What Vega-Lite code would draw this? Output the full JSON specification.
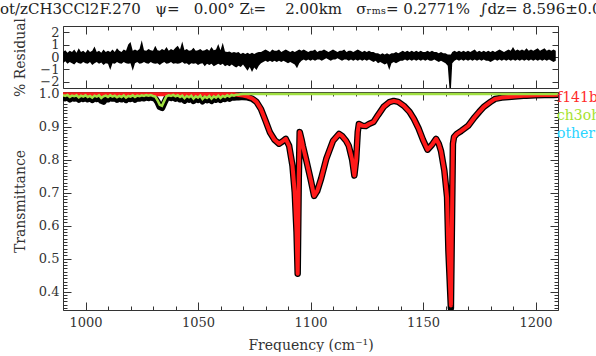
{
  "$schema": "https://vega.github.io/schema/vega-lite/v6.json",
  "background": "white",
  "padding": {"left": 0, "top": 2, "right": 0, "bottom": 0},
  "title": {"text": "ot/zCH3CCl2F.270\u00a0\u00a0\u00a0ψ=\u00a0\u00a0\u00a00.00°\u00a0Zₜ=\u00a0\u00a0\u00a0\u00a02.00km\u00a0\u00a0\u00a0σᵣₘₛ=\u00a00.2771%\u00a0\u00a0∫dz=\u00a08.596±0.0", "anchor": "start", "dx": -13, "fontSize": 15, "font": "DejaVu Serif", "fontWeight": "normal", "color": "#222", "offset": 0},
  "config": {
    "font": "DejaVu Serif",
    "view": {"stroke": null},
    "axis": {"labelFont": "DejaVu Serif", "labelFontSize": 13, "labelColor": "#333", "titleFont": "DejaVu Serif", "titleFontSize": 14, "titleFontWeight": "normal", "titleColor": "#333", "domainColor": "#333", "tickColor": "#333", "grid": false, "labelOverlap": false, "labelFlush": false}
  },
  "spacing": 4,
  "bounds": "flush",
  "resolve": {"scale": {"color": "independent"}, "legend": {"color": "independent"}},
  "vconcat": [
    {
      "width": 495,
      "height": 62,
      "data": {"values": [
        {"f":990,"lo":-0.5,"hi":0.4},{"f":991,"lo":-0.35,"hi":0.55},{"f":992,"lo":-0.55,"hi":0.35},{"f":993,"lo":-0.4,"hi":0.5},{"f":994,"lo":-0.5,"hi":0.4},{"f":995,"lo":-0.6,"hi":0.6},{"f":996,"lo":-0.4,"hi":0.35},{"f":997,"lo":-0.5,"hi":0.7},{"f":998,"lo":-0.55,"hi":0.4},{"f":999,"lo":-0.4,"hi":0.5},
        {"f":1000,"lo":-0.5,"hi":0.35},{"f":1001,"lo":-0.55,"hi":0.6},{"f":1002,"lo":-0.4,"hi":0.4},{"f":1003,"lo":-0.65,"hi":0.5},{"f":1004,"lo":-0.5,"hi":0.85},{"f":1005,"lo":-0.4,"hi":0.4},{"f":1006,"lo":-0.55,"hi":0.5},{"f":1007,"lo":-0.45,"hi":0.35},{"f":1008,"lo":-0.65,"hi":0.6},{"f":1009,"lo":-0.5,"hi":0.4},
        {"f":1010,"lo":-0.55,"hi":0.5},{"f":1011,"lo":-1.05,"hi":0.4},{"f":1012,"lo":-0.5,"hi":0.6},{"f":1013,"lo":-0.55,"hi":0.4},{"f":1014,"lo":-0.4,"hi":0.7},{"f":1015,"lo":-0.5,"hi":0.5},{"f":1016,"lo":-0.55,"hi":0.4},{"f":1017,"lo":-0.4,"hi":0.6},{"f":1018,"lo":-0.5,"hi":0.5},{"f":1019,"lo":-0.55,"hi":1.0},
        {"f":1020,"lo":-0.5,"hi":1.2},{"f":1021,"lo":-1.1,"hi":0.5},{"f":1022,"lo":-0.5,"hi":0.6},{"f":1023,"lo":-0.4,"hi":0.5},{"f":1024,"lo":-0.55,"hi":0.65},{"f":1025,"lo":-0.5,"hi":1.35},{"f":1026,"lo":-0.4,"hi":0.55},{"f":1027,"lo":-0.5,"hi":0.5},{"f":1028,"lo":-0.55,"hi":0.65},{"f":1029,"lo":-0.4,"hi":0.55},
        {"f":1030,"lo":-0.5,"hi":0.5},{"f":1031,"lo":-0.55,"hi":0.9},{"f":1032,"lo":-0.5,"hi":0.55},{"f":1033,"lo":-0.65,"hi":0.5},{"f":1034,"lo":-0.5,"hi":0.65},{"f":1035,"lo":-0.4,"hi":0.55},{"f":1036,"lo":-0.55,"hi":0.8},{"f":1037,"lo":-0.5,"hi":0.5},{"f":1038,"lo":-0.4,"hi":0.65},{"f":1039,"lo":-0.55,"hi":0.55},
        {"f":1040,"lo":-0.5,"hi":0.75},{"f":1041,"lo":-0.55,"hi":0.9},{"f":1042,"lo":-0.5,"hi":0.6},{"f":1043,"lo":-0.4,"hi":1.25},{"f":1044,"lo":-0.55,"hi":0.55},{"f":1045,"lo":-0.5,"hi":0.65},{"f":1046,"lo":-0.65,"hi":0.5},{"f":1047,"lo":-0.5,"hi":0.55},{"f":1048,"lo":-0.55,"hi":0.75},{"f":1049,"lo":-0.5,"hi":0.5},
        {"f":1050,"lo":-0.65,"hi":0.55},{"f":1051,"lo":-0.55,"hi":0.65},{"f":1052,"lo":-0.5,"hi":0.5},{"f":1053,"lo":-0.75,"hi":0.55},{"f":1054,"lo":-0.55,"hi":0.65},{"f":1055,"lo":-0.65,"hi":0.5},{"f":1056,"lo":-0.55,"hi":0.8},{"f":1057,"lo":-0.75,"hi":0.55},{"f":1058,"lo":-0.65,"hi":0.6},{"f":1059,"lo":-0.55,"hi":1.05},
        {"f":1060,"lo":-0.65,"hi":0.55},{"f":1061,"lo":-0.55,"hi":1.15},{"f":1062,"lo":-0.75,"hi":0.45},{"f":1063,"lo":-0.65,"hi":0.4},{"f":1064,"lo":-0.75,"hi":0.45},{"f":1065,"lo":-0.6,"hi":0.35},{"f":1066,"lo":-0.75,"hi":0.4},{"f":1067,"lo":-0.85,"hi":0.35},{"f":1068,"lo":-0.7,"hi":0.4},{"f":1069,"lo":-0.8,"hi":0.25},
        {"f":1070,"lo":-0.6,"hi":0.35},{"f":1071,"lo":-0.85,"hi":0.25},{"f":1072,"lo":-1.1,"hi":0.35},{"f":1073,"lo":-0.8,"hi":0.25},{"f":1074,"lo":-1.2,"hi":0.35},{"f":1075,"lo":-0.85,"hi":0.25},{"f":1076,"lo":-1.05,"hi":0.35},{"f":1077,"lo":-0.7,"hi":0.4},{"f":1078,"lo":-0.5,"hi":0.4},{"f":1079,"lo":-0.4,"hi":0.5},
        {"f":1080,"lo":-0.3,"hi":0.6},{"f":1081,"lo":-0.4,"hi":0.5},{"f":1082,"lo":-0.3,"hi":0.4},{"f":1083,"lo":-0.4,"hi":0.6},{"f":1084,"lo":-0.3,"hi":0.5},{"f":1085,"lo":-0.4,"hi":0.5},{"f":1086,"lo":-0.3,"hi":0.6},{"f":1087,"lo":-0.4,"hi":0.4},{"f":1088,"lo":-0.3,"hi":0.5},{"f":1089,"lo":-0.4,"hi":0.6},
        {"f":1090,"lo":-0.5,"hi":0.5},{"f":1091,"lo":-0.4,"hi":0.4},{"f":1092,"lo":-0.5,"hi":0.5},{"f":1093,"lo":-0.6,"hi":0.4},{"f":1094,"lo":-0.9,"hi":0.5},{"f":1095,"lo":-0.5,"hi":0.6},{"f":1096,"lo":-0.3,"hi":0.5},{"f":1097,"lo":-0.2,"hi":0.6},{"f":1098,"lo":-0.3,"hi":0.5},{"f":1099,"lo":-0.2,"hi":0.4},
        {"f":1100,"lo":-0.3,"hi":0.5},{"f":1101,"lo":-0.2,"hi":0.5},{"f":1102,"lo":-0.3,"hi":0.6},{"f":1103,"lo":-0.2,"hi":0.4},{"f":1104,"lo":-0.2,"hi":0.5},{"f":1105,"lo":-0.3,"hi":0.5},{"f":1106,"lo":-0.2,"hi":0.6},{"f":1107,"lo":-0.1,"hi":0.5},{"f":1108,"lo":-0.2,"hi":0.4},{"f":1109,"lo":-0.3,"hi":0.5},
        {"f":1110,"lo":-0.2,"hi":0.6},{"f":1111,"lo":-0.2,"hi":0.5},{"f":1112,"lo":-0.1,"hi":0.4},{"f":1113,"lo":-0.2,"hi":0.5},{"f":1114,"lo":-0.3,"hi":0.5},{"f":1115,"lo":-0.2,"hi":0.6},{"f":1116,"lo":-0.2,"hi":0.4},{"f":1117,"lo":-0.3,"hi":0.5},{"f":1118,"lo":-0.2,"hi":0.5},{"f":1119,"lo":-0.3,"hi":0.4},
        {"f":1120,"lo":-0.2,"hi":0.5},{"f":1121,"lo":-0.3,"hi":0.6},{"f":1122,"lo":-0.2,"hi":0.5},{"f":1123,"lo":-0.3,"hi":0.4},{"f":1124,"lo":-0.2,"hi":0.5},{"f":1125,"lo":-0.3,"hi":0.4},{"f":1126,"lo":-0.2,"hi":0.5},{"f":1127,"lo":-0.3,"hi":0.4},{"f":1128,"lo":-0.4,"hi":0.4},{"f":1129,"lo":-0.3,"hi":0.3},
        {"f":1130,"lo":-0.5,"hi":0.3},{"f":1131,"lo":-0.4,"hi":0.2},{"f":1132,"lo":-0.5,"hi":0.3},{"f":1133,"lo":-0.6,"hi":0.2},{"f":1134,"lo":-0.5,"hi":0.3},{"f":1135,"lo":-1.05,"hi":0.2},{"f":1136,"lo":-0.5,"hi":0.3},{"f":1137,"lo":-0.4,"hi":0.3},{"f":1138,"lo":-0.5,"hi":0.4},{"f":1139,"lo":-0.4,"hi":0.3},
        {"f":1140,"lo":-0.3,"hi":0.4},{"f":1141,"lo":-0.3,"hi":0.5},{"f":1142,"lo":-0.2,"hi":0.4},{"f":1143,"lo":-0.3,"hi":0.5},{"f":1144,"lo":-0.2,"hi":0.4},{"f":1145,"lo":-0.3,"hi":0.5},{"f":1146,"lo":-0.2,"hi":0.4},{"f":1147,"lo":-0.3,"hi":0.5},{"f":1148,"lo":-0.2,"hi":0.4},{"f":1149,"lo":-0.3,"hi":0.5},
        {"f":1150,"lo":-0.2,"hi":0.4},{"f":1151,"lo":-0.3,"hi":0.4},{"f":1152,"lo":-0.2,"hi":0.5},{"f":1153,"lo":-0.3,"hi":0.4},{"f":1154,"lo":-0.3,"hi":0.5},{"f":1155,"lo":-0.2,"hi":0.4},{"f":1156,"lo":-0.3,"hi":0.4},{"f":1157,"lo":-0.4,"hi":0.3},{"f":1158,"lo":-0.3,"hi":0.4},{"f":1159,"lo":-0.4,"hi":0.3},
        {"f":1160,"lo":-0.5,"hi":0.3},{"f":1161,"lo":-0.7,"hi":0.2},{"f":1161.8,"lo":-2.6,"hi":0.2},{"f":1162.4,"lo":-2.6,"hi":0.2},{"f":1163,"lo":-0.5,"hi":0.4},{"f":1164,"lo":-0.3,"hi":0.5},{"f":1165,"lo":-0.2,"hi":0.4},{"f":1166,"lo":-0.3,"hi":0.5},{"f":1167,"lo":-0.2,"hi":0.4},{"f":1168,"lo":-0.3,"hi":0.5},{"f":1169,"lo":-0.2,"hi":0.4},
        {"f":1170,"lo":-0.3,"hi":0.5},{"f":1171,"lo":-0.2,"hi":0.4},{"f":1172,"lo":-0.3,"hi":0.5},{"f":1173,"lo":-0.2,"hi":0.6},{"f":1174,"lo":-0.3,"hi":0.4},{"f":1175,"lo":-0.2,"hi":0.5},{"f":1176,"lo":-0.3,"hi":0.4},{"f":1177,"lo":-0.2,"hi":0.5},{"f":1178,"lo":-0.3,"hi":0.4},{"f":1179,"lo":-0.3,"hi":0.5},
        {"f":1180,"lo":-0.4,"hi":0.4},{"f":1181,"lo":-0.3,"hi":0.5},{"f":1182,"lo":-0.2,"hi":0.4},{"f":1183,"lo":-0.3,"hi":0.5},{"f":1184,"lo":-0.2,"hi":0.6},{"f":1185,"lo":-0.3,"hi":0.5},{"f":1186,"lo":-0.2,"hi":0.4},{"f":1187,"lo":-0.3,"hi":0.5},{"f":1188,"lo":-0.2,"hi":0.6},{"f":1189,"lo":-0.3,"hi":0.5},
        {"f":1190,"lo":-0.2,"hi":0.8},{"f":1191,"lo":-0.3,"hi":0.5},{"f":1192,"lo":-0.2,"hi":0.6},{"f":1193,"lo":-0.3,"hi":0.5},{"f":1194,"lo":-0.2,"hi":0.6},{"f":1195,"lo":-0.3,"hi":0.5},{"f":1196,"lo":-0.2,"hi":0.7},{"f":1197,"lo":-0.3,"hi":0.5},{"f":1198,"lo":-0.2,"hi":0.6},{"f":1199,"lo":-0.3,"hi":0.5},
        {"f":1200,"lo":-0.2,"hi":0.6},{"f":1201,"lo":-0.3,"hi":0.7},{"f":1202,"lo":-0.2,"hi":0.5},{"f":1203,"lo":-0.3,"hi":0.6},{"f":1204,"lo":-0.2,"hi":0.7},{"f":1205,"lo":-0.3,"hi":0.5},{"f":1206,"lo":-0.2,"hi":0.6},{"f":1207,"lo":-0.3,"hi":0.5},{"f":1208,"lo":-0.4,"hi":0.6},{"f":1209,"lo":-0.3,"hi":0.5}
      ]},
      "layer": [
        {
          "mark": {"type": "area", "color": "black", "interpolate": "linear", "clip": true},
          "encoding": {
            "x": {"field": "f", "type": "quantitative", "scale": {"domain": [990, 1210], "nice": false, "zero": false},
                  "axis": {"orient": "bottom", "title": null, "labels": false, "values": [990,1000,1010,1020,1030,1040,1050,1060,1070,1080,1090,1100,1110,1120,1130,1140,1150,1160,1170,1180,1190,1200,1210],
                           "tickSize": {"condition": {"test": "datum.value % 50 === 0", "value": -8}, "value": -4}}},
            "y": {"field": "lo", "type": "quantitative", "scale": {"domain": [-2.5, 2.5], "nice": false, "zero": false},
                  "axis": {"orient": "left", "title": "% Residual", "titleX": -36, "values": [-2,-1,0,1,2], "tickSize": -6, "labelPadding": 10}},
            "y2": {"field": "hi"}
          }
        },
        {
          "mark": {"type": "rule", "opacity": 0},
          "encoding": {
            "x": {"field": "f", "type": "quantitative",
                  "axis": {"orient": "top", "title": null, "labels": false, "values": [990,1000,1010,1020,1030,1040,1050,1060,1070,1080,1090,1100,1110,1120,1130,1140,1150,1160,1170,1180,1190,1200,1210],
                           "tickSize": {"condition": {"test": "datum.value % 50 === 0", "value": -8}, "value": -4}}},
            "y": {"field": "lo", "type": "quantitative",
                  "axis": {"orient": "right", "title": null, "labels": false, "values": [-2,-1,0,1,2], "tickSize": -6}}
          }
        }
      ],
      "resolve": {"axis": {"x": "independent", "y": "independent"}}
    },
    {
      "width": 495,
      "height": 218,
      "data": {"values": [
        {"f":990,"r":0.998,"g":0.995,"o":0.989},{"f":991,"r":0.998,"g":0.993,"o":0.986},{"f":992,"r":0.998,"g":0.996,"o":0.990},{"f":993,"r":0.998,"g":0.990,"o":0.983},{"f":994,"r":0.998,"g":0.994,"o":0.988},
        {"f":995,"r":0.998,"g":0.992,"o":0.985},{"f":996,"r":0.998,"g":0.995,"o":0.989},{"f":997,"r":0.998,"g":0.989,"o":0.982},{"f":998,"r":0.998,"g":0.994,"o":0.987},{"f":999,"r":0.998,"g":0.991,"o":0.984},
        {"f":1000,"r":0.998,"g":0.995,"o":0.988},{"f":1001,"r":0.998,"g":0.990,"o":0.983},{"f":1002,"r":0.998,"g":0.993,"o":0.987},{"f":1003,"r":0.998,"g":0.988,"o":0.981},{"f":1004,"r":0.998,"g":0.994,"o":0.988},
        {"f":1005,"r":0.998,"g":0.991,"o":0.984},{"f":1006,"r":0.998,"g":0.995,"o":0.989},{"f":1007,"r":0.998,"g":0.987,"o":0.979},{"f":1008,"r":0.998,"g":0.992,"o":0.976},{"f":1009,"r":0.998,"g":0.994,"o":0.988},
        {"f":1010,"r":0.998,"g":0.990,"o":0.983},{"f":1011,"r":0.998,"g":0.995,"o":0.989},{"f":1012,"r":0.998,"g":0.991,"o":0.985},{"f":1013,"r":0.998,"g":0.994,"o":0.987},{"f":1014,"r":0.998,"g":0.989,"o":0.982},
        {"f":1015,"r":0.998,"g":0.993,"o":0.986},{"f":1016,"r":0.998,"g":0.990,"o":0.983},{"f":1017,"r":0.998,"g":0.995,"o":0.989},{"f":1018,"r":0.998,"g":0.988,"o":0.981},{"f":1019,"r":0.998,"g":0.993,"o":0.987},
        {"f":1020,"r":0.998,"g":0.991,"o":0.984},{"f":1021,"r":0.998,"g":0.995,"o":0.988},{"f":1022,"r":0.998,"g":0.990,"o":0.982},{"f":1023,"r":0.998,"g":0.994,"o":0.987},{"f":1024,"r":0.998,"g":0.992,"o":0.985},
        {"f":1025,"r":0.998,"g":0.995,"o":0.988},{"f":1026,"r":0.998,"g":0.993,"o":0.986},{"f":1027,"r":0.998,"g":0.996,"o":0.989},{"f":1028,"r":0.998,"g":0.994,"o":0.987},{"f":1029,"r":0.998,"g":0.996,"o":0.990},
        {"f":1030,"r":0.998,"g":0.993,"o":0.987},{"f":1031,"r":0.998,"g":0.991,"o":0.985},{"f":1032,"r":0.998,"g":0.980,"o":0.975},{"f":1033,"r":0.998,"g":0.966,"o":0.960},{"f":1034,"r":0.998,"g":0.963,"o":0.957},
        {"f":1035,"r":0.998,"g":0.978,"o":0.972},{"f":1036,"r":0.998,"g":0.992,"o":0.986},{"f":1037,"r":0.998,"g":0.995,"o":0.989},{"f":1038,"r":0.998,"g":0.993,"o":0.987},{"f":1039,"r":0.998,"g":0.996,"o":0.990},
        {"f":1040,"r":0.998,"g":0.992,"o":0.985},{"f":1041,"r":0.998,"g":0.995,"o":0.989},{"f":1042,"r":0.998,"g":0.990,"o":0.983},{"f":1043,"r":0.998,"g":0.994,"o":0.988},{"f":1044,"r":0.998,"g":0.986,"o":0.979},
        {"f":1045,"r":0.998,"g":0.993,"o":0.987},{"f":1046,"r":0.998,"g":0.989,"o":0.982},{"f":1047,"r":0.998,"g":0.994,"o":0.988},{"f":1048,"r":0.998,"g":0.985,"o":0.978},{"f":1049,"r":0.998,"g":0.992,"o":0.986},
        {"f":1050,"r":0.998,"g":0.988,"o":0.981},{"f":1051,"r":0.998,"g":0.994,"o":0.987},{"f":1052,"r":0.998,"g":0.984,"o":0.977},{"f":1053,"r":0.998,"g":0.991,"o":0.985},{"f":1054,"r":0.998,"g":0.987,"o":0.980},
        {"f":1055,"r":0.998,"g":0.993,"o":0.987},{"f":1056,"r":0.998,"g":0.985,"o":0.978},{"f":1057,"r":0.998,"g":0.992,"o":0.986},{"f":1058,"r":0.998,"g":0.988,"o":0.982},{"f":1059,"r":0.998,"g":0.994,"o":0.988},
        {"f":1060,"r":0.998,"g":0.987,"o":0.981},{"f":1061,"r":0.998,"g":0.993,"o":0.987},{"f":1062,"r":0.998,"g":0.990,"o":0.984},{"f":1063,"r":0.998,"g":0.995,"o":0.989},{"f":1064,"r":0.998,"g":0.991,"o":0.985},
        {"f":1065,"r":0.998,"g":0.996,"o":0.990},{"f":1066,"r":0.998,"g":0.994,"o":0.988},{"f":1067,"r":0.997,"g":0.997,"o":0.989},{"f":1068,"r":0.996,"g":0.997,"o":0.989},{"f":1069,"r":0.995,"g":0.998,"o":0.990},
        {"f":1070,"r":0.994,"g":0.999,"o":0.990},{"f":1072,"r":0.991,"g":0.999,"o":0.989},{"f":1074,"r":0.986,"g":0.999,"o":0.985},{"f":1076,"r":0.975,"g":0.999,"o":0.975},{"f":1078,"r":0.953,"g":0.999,"o":0.953},
        {"f":1080,"r":0.918,"g":0.999,"o":0.918},{"f":1082,"r":0.882,"g":0.999,"o":0.882},{"f":1084,"r":0.860,"g":0.999,"o":0.860},{"f":1086,"r":0.848,"g":0.999,"o":0.848},{"f":1087.5,"r":0.855,"g":0.999,"o":0.855},
        {"f":1089,"r":0.863,"g":0.999,"o":0.863},{"f":1090.5,"r":0.842,"g":0.999,"o":0.842},{"f":1092,"r":0.781,"g":0.999,"o":0.781},{"f":1093,"r":0.700,"g":0.999,"o":0.700},{"f":1093.8,"r":0.580,"g":0.999,"o":0.580},
        {"f":1094.3,"r":0.454,"g":0.999,"o":0.454},{"f":1094.8,"r":0.750,"g":0.999,"o":0.750},{"f":1095.2,"r":0.884,"g":0.999,"o":0.884},{"f":1096,"r":0.862,"g":0.999,"o":0.862},{"f":1096.6,"r":0.842,"g":0.999,"o":0.842},
        {"f":1098,"r":0.802,"g":0.999,"o":0.802},{"f":1100,"r":0.742,"g":0.999,"o":0.742},{"f":1101.6,"r":0.690,"g":0.999,"o":0.690},{"f":1103,"r":0.705,"g":0.999,"o":0.705},{"f":1104.7,"r":0.742,"g":0.999,"o":0.742},
        {"f":1107,"r":0.802,"g":0.999,"o":0.802},{"f":1110,"r":0.857,"g":0.999,"o":0.857},{"f":1112.7,"r":0.878,"g":0.999,"o":0.878},{"f":1114,"r":0.872,"g":0.999,"o":0.872},{"f":1115.8,"r":0.857,"g":0.999,"o":0.857},
        {"f":1117,"r":0.842,"g":0.999,"o":0.842},{"f":1118.5,"r":0.800,"g":0.999,"o":0.800},{"f":1119.5,"r":0.752,"g":0.999,"o":0.752},{"f":1120.3,"r":0.800,"g":0.999,"o":0.800},{"f":1121,"r":0.884,"g":0.999,"o":0.884},
        {"f":1121.5,"r":0.908,"g":0.999,"o":0.908},{"f":1123,"r":0.903,"g":0.999,"o":0.903},{"f":1124.6,"r":0.902,"g":0.999,"o":0.902},{"f":1126,"r":0.908,"g":0.999,"o":0.908},{"f":1128,"r":0.914,"g":0.999,"o":0.914},
        {"f":1130,"r":0.935,"g":0.999,"o":0.935},{"f":1132.5,"r":0.960,"g":0.999,"o":0.960},{"f":1135,"r":0.974,"g":0.999,"o":0.974},{"f":1137,"r":0.978,"g":0.999,"o":0.978},{"f":1139,"r":0.975,"g":0.999,"o":0.975},
        {"f":1141.5,"r":0.963,"g":0.999,"o":0.963},{"f":1144,"r":0.945,"g":0.999,"o":0.945},{"f":1146,"r":0.923,"g":0.999,"o":0.923},{"f":1148,"r":0.895,"g":0.999,"o":0.895},{"f":1150,"r":0.860,"g":0.999,"o":0.860},
        {"f":1152,"r":0.830,"g":0.999,"o":0.830},{"f":1154,"r":0.845,"g":0.999,"o":0.845},{"f":1155.8,"r":0.863,"g":0.999,"o":0.863},{"f":1157,"r":0.848,"g":0.999,"o":0.848},{"f":1158,"r":0.826,"g":0.999,"o":0.826},
        {"f":1159.5,"r":0.766,"g":0.999,"o":0.766},{"f":1160.7,"r":0.687,"g":0.999,"o":0.687},{"f":1161.3,"r":0.523,"g":0.999,"o":0.523},{"f":1162.4,"r":0.358,"g":0.999,"o":0.350},{"f":1163.3,"r":0.848,"g":0.999,"o":0.848},
        {"f":1163.8,"r":0.869,"g":0.999,"o":0.869},{"f":1165,"r":0.878,"g":0.999,"o":0.878},{"f":1167,"r":0.887,"g":0.999,"o":0.887},{"f":1170,"r":0.902,"g":0.999,"o":0.902},{"f":1173,"r":0.929,"g":0.999,"o":0.929},
        {"f":1175,"r":0.945,"g":0.999,"o":0.945},{"f":1177,"r":0.960,"g":0.999,"o":0.960},{"f":1180,"r":0.975,"g":0.999,"o":0.975},{"f":1182,"r":0.984,"g":0.999,"o":0.984},{"f":1185,"r":0.988,"g":0.999,"o":0.988},
        {"f":1188,"r":0.990,"g":0.999,"o":0.990},{"f":1192,"r":0.992,"g":0.999,"o":0.992},{"f":1196,"r":0.994,"g":0.999,"o":0.994},{"f":1200,"r":0.995,"g":0.999,"o":0.995},{"f":1204,"r":0.996,"g":0.999,"o":0.996},
        {"f":1208,"r":0.996,"g":0.999,"o":0.996},{"f":1210,"r":0.997,"g":0.999,"o":0.997}
      ]},
      "layer": [
        {
          "mark": {"type": "line", "color": "black", "strokeWidth": 6.5, "strokeJoin": "round", "clip": true},
          "encoding": {
            "x": {"field": "f", "type": "quantitative", "scale": {"domain": [990, 1210], "nice": false, "zero": false},
                  "axis": {"orient": "bottom", "title": "Frequency (cm⁻¹)", "titlePadding": 5,
                           "values": [990,1000,1010,1020,1030,1040,1050,1060,1070,1080,1090,1100,1110,1120,1130,1140,1150,1160,1170,1180,1190,1200,1210],
                           "labelExpr": "datum.value % 50 === 0 ? format(datum.value, 'd') : ''",
                           "tickSize": {"condition": {"test": "datum.value % 50 === 0", "value": -8}, "value": -4},
                           "labelPadding": 14}},
            "y": {"field": "o", "type": "quantitative", "scale": {"domain": [0.344, 1.005], "nice": false, "zero": false},
                  "axis": {"orient": "left", "title": "Transmittance", "titleX": -36,
                           "values": [0.35,0.36,0.37,0.38,0.39,0.4,0.41,0.42,0.43,0.44,0.45,0.46,0.47,0.48,0.49,0.5,0.51,0.52,0.53,0.54,0.55,0.56,0.57,0.58,0.59,0.6,0.61,0.62,0.63,0.64,0.65,0.66,0.67,0.68,0.69,0.7,0.71,0.72,0.73,0.74,0.75,0.76,0.77,0.78,0.79,0.8,0.81,0.82,0.83,0.84,0.85,0.86,0.87,0.88,0.89,0.9,0.91,0.92,0.93,0.94,0.95,0.96,0.97,0.98,0.99,1.0],
                           "labelExpr": "abs(datum.value*10 - round(datum.value*10)) < 0.01 ? format(datum.value, '.1f') : ''",
                           "tickSize": {"condition": {"test": "abs(datum.value*10 - round(datum.value*10)) < 0.01", "value": -8}, "value": -4},
                           "labelPadding": 12}}
          }
        },
        {
          "data": {"values": [{"f": 990, "t": 1.0}, {"f": 1210, "t": 1.0}]},
          "mark": {"type": "line", "strokeWidth": 1.5, "clip": true},
          "encoding": {
            "x": {"field": "f", "type": "quantitative",
                  "axis": {"orient": "top", "title": null, "labels": false,
                           "values": [990,1000,1010,1020,1030,1040,1050,1060,1070,1080,1090,1100,1110,1120,1130,1140,1150,1160,1170,1180,1190,1200,1210],
                           "tickSize": {"condition": {"test": "datum.value % 50 === 0", "value": -8}, "value": -4}}},
            "y": {"field": "t", "type": "quantitative",
                  "axis": {"orient": "right", "title": null, "labels": false,
                           "values": [0.35,0.36,0.37,0.38,0.39,0.4,0.41,0.42,0.43,0.44,0.45,0.46,0.47,0.48,0.49,0.5,0.51,0.52,0.53,0.54,0.55,0.56,0.57,0.58,0.59,0.6,0.61,0.62,0.63,0.64,0.65,0.66,0.67,0.68,0.69,0.7,0.71,0.72,0.73,0.74,0.75,0.76,0.77,0.78,0.79,0.8,0.81,0.82,0.83,0.84,0.85,0.86,0.87,0.88,0.89,0.9,0.91,0.92,0.93,0.94,0.95,0.96,0.97,0.98,0.99,1.0],
                           "tickSize": {"condition": {"test": "abs(datum.value*10 - round(datum.value*10)) < 0.01", "value": -8}, "value": -4}}},
            "color": {"datum": "other", "type": "nominal"}
          }
        },
        {
          "mark": {"type": "line", "strokeWidth": 4, "strokeJoin": "round", "clip": true},
          "encoding": {
            "x": {"field": "f", "type": "quantitative", "axis": null},
            "y": {"field": "r", "type": "quantitative", "axis": null},
            "color": {"datum": "f141b", "type": "nominal",
                      "scale": {"domain": ["f141b", "ch3oh", "other"], "range": ["#ff1a1a", "#a0e040", "#33ccff"]},
                      "legend": {"orient": "none", "legendX": 480, "legendY": -1, "title": null, "padding": 0, "symbolSize": 0, "symbolStrokeWidth": 0, "symbolOpacity": 0,
                                 "labelFont": "DejaVu Serif", "labelFontSize": 14, "labelOffset": 0, "rowPadding": 4,
                                 "encode": {"labels": {"update": {"fill": {"signal": "datum.value === 'f141b' ? '#ff2a2a' : datum.value === 'ch3oh' ? '#a6e22e' : '#2ad4ff'"}}}}}}
          }
        },
        {
          "mark": {"type": "line", "strokeWidth": 2.5, "clip": true},
          "encoding": {
            "x": {"field": "f", "type": "quantitative", "axis": null},
            "y": {"field": "g", "type": "quantitative", "axis": null},
            "color": {"datum": "ch3oh", "type": "nominal"}
          }
        }
      ],
      "resolve": {"axis": {"x": "independent", "y": "independent"}}
    }
  ]
}
